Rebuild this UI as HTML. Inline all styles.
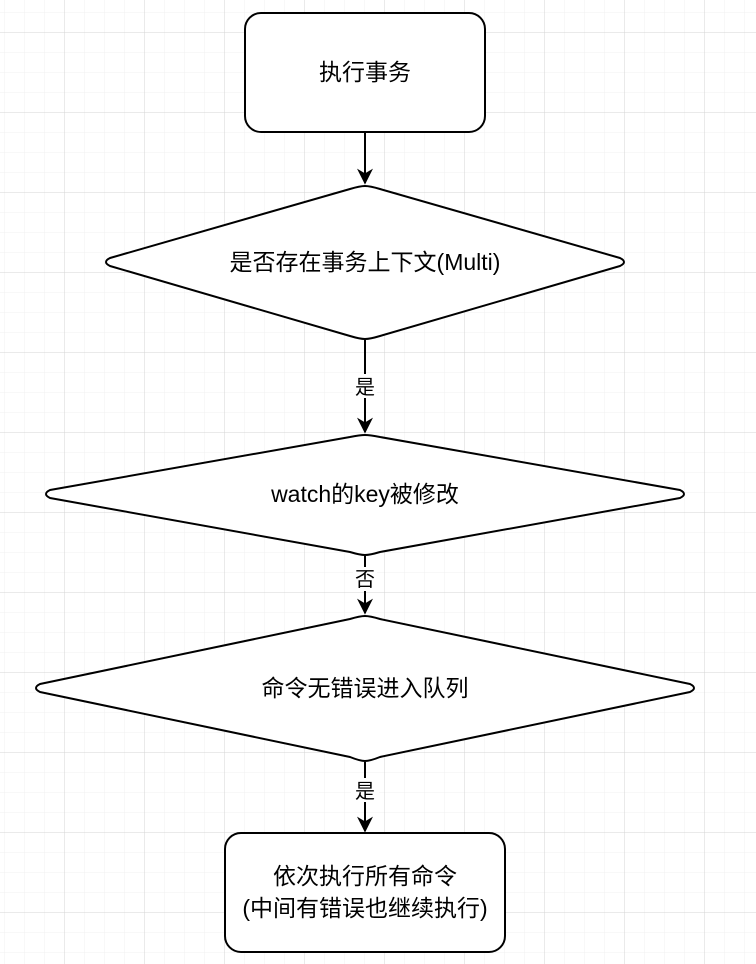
<!DOCTYPE html>
<html><head><meta charset="utf-8"><style>
html,body{margin:0;padding:0;background:#fff;}
svg{display:block;}
text{font-family:"Liberation Sans","Noto Sans CJK SC",sans-serif;font-size:23px;fill:#000;}
</style></head><body>
<svg width="756" height="964" viewBox="0 0 756 964" xmlns="http://www.w3.org/2000/svg">
<defs>
<pattern id="minor" width="20" height="20" patternUnits="userSpaceOnUse" x="4" y="12">
<path d="M0 0H20M0 0V20" stroke="#f0f0f0" stroke-width="1" fill="none"/>
</pattern>
<pattern id="major" width="80" height="80" patternUnits="userSpaceOnUse" x="64" y="32">
<path d="M0 0H80M0 0V80" stroke="#d4d4d4" stroke-width="1" fill="none"/>
</pattern>
<marker id="ah" viewBox="0 0 10 10" refX="9" refY="5" markerWidth="8" markerHeight="8" orient="auto">
<path d="M0 0L10 5L0 10L3 5Z" fill="#000"/>
</marker>
</defs>
<rect width="756" height="964" fill="url(#minor)"/>
<rect width="756" height="964" fill="url(#major)"/>
<g stroke="#000" stroke-width="2" fill="#fff" stroke-linejoin="round">
<rect x="245" y="13" width="240" height="119" rx="16"/>
<path d="M365 186 Q370 186 380 189 L620 258 Q628 262 620 266 L380 336 Q370 339 365 339 Q360 339 350 336 L110 266 Q102 262 110 258 L350 189 Q360 186 365 186Z"/>
<path d="M365 435 Q370 435 380 437 L680 490 Q688 494 680 498 L380 552 Q370 555 365 555 Q360 555 350 552 L50 498 Q42 494 50 490 L350 437 Q360 435 365 435Z"/>
<path d="M365 616 Q370 616 380 619 L690 684 Q698 688 690 692 L380 757 Q370 761 365 761 Q360 761 350 757 L40 692 Q32 688 40 684 L350 619 Q360 616 365 616Z"/>
<rect x="225" y="833" width="280" height="119" rx="16"/>
</g>
<g stroke="#000" stroke-width="2" fill="none">
<line x1="365" y1="132" x2="365" y2="183" marker-end="url(#ah)"/>
<line x1="365" y1="340" x2="365" y2="432" marker-end="url(#ah)"/>
<line x1="365" y1="556" x2="365" y2="613" marker-end="url(#ah)"/>
<line x1="365" y1="762" x2="365" y2="831" marker-end="url(#ah)"/>
</g>
<rect x="353" y="374" width="24" height="24" fill="#fff"/>
<rect x="353" y="567" width="24" height="24" fill="#fff"/>
<rect x="351" y="778" width="28" height="24" fill="#fff"/>
<g text-anchor="middle">
<text x="365" y="80">执行事务</text>
<text x="365" y="270">是否存在事务上下文(Multi)</text>
<text x="365" y="394" style="font-size:20px">是</text>
<text x="365" y="502">watch的key被修改</text>
<text x="365" y="586" style="font-size:20px">否</text>
<text x="365" y="696">命令无错误进入队列</text>
<text x="365" y="798" style="font-size:20px">是</text>
<text x="365" y="884">依次执行所有命令</text>
<text x="365" y="916">(中间有错误也继续执行)</text>
</g>
</svg>
</body></html>
